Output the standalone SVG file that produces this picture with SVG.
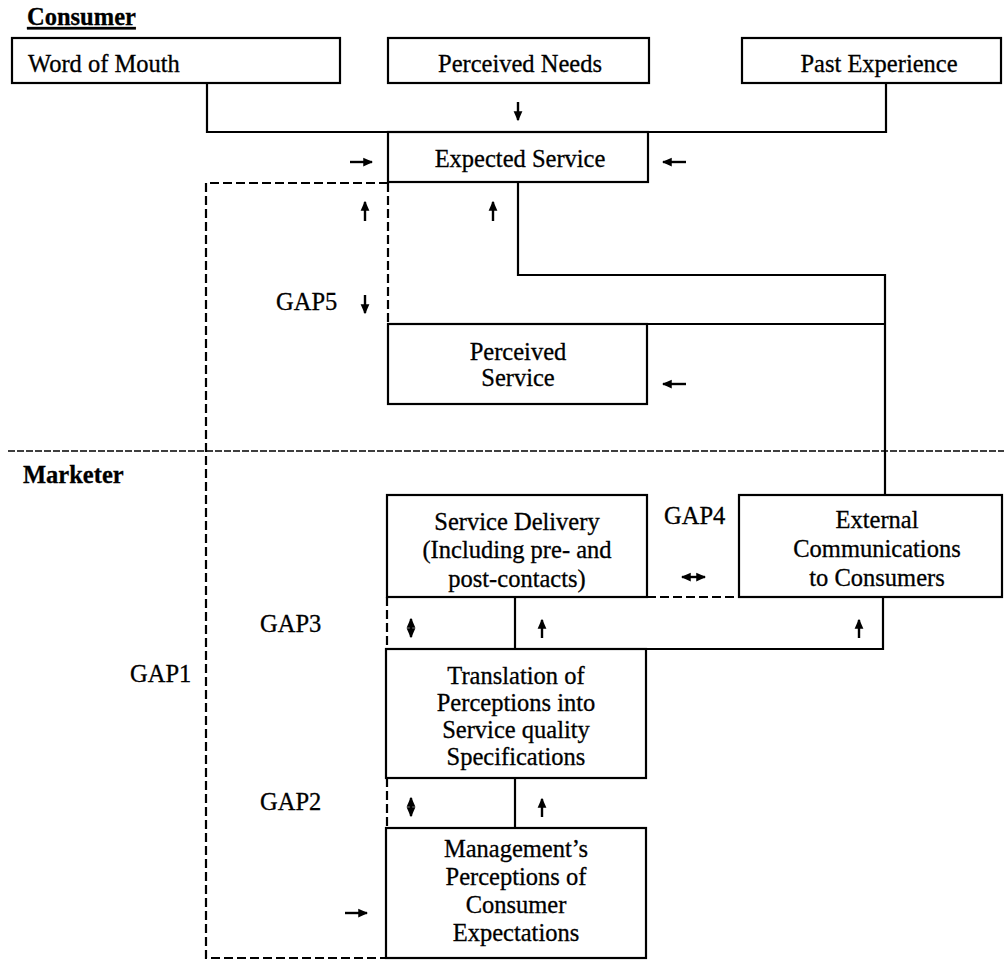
<svg xmlns="http://www.w3.org/2000/svg" width="1004" height="960" viewBox="0 0 1004 960">
<style>
text{font-family:"Liberation Serif","Times New Roman",serif;font-size:24.5px;fill:#000;stroke:#000;stroke-width:0.3}
.c{text-anchor:middle}
.b{font-weight:bold}
.box{fill:#fff;stroke:#000;stroke-width:2.2}
.ln{fill:none;stroke:#000;stroke-width:2.2}
.dash{fill:none;stroke:#000;stroke-width:2.2;stroke-dasharray:9,4}
.sep{fill:none;stroke:#000;stroke-width:1.6;stroke-dasharray:7,2}
.ar{fill:none;stroke:#000;stroke-width:2.4}
</style>
<defs>
<marker id="ah" markerUnits="userSpaceOnUse" markerWidth="10" markerHeight="10" refX="7" refY="4" orient="auto-start-reverse" viewBox="0 0 8 8">
<path d="M0,0.5 L8,4 L0,7.5 Z" fill="#000"/>
</marker>
</defs>

<text x="27" y="25" class="b" text-decoration="underline">Consumer</text>
<text x="23" y="483" class="b">Marketer</text>

<g id="connectors">
<path class="ln" d="M207,83 V132 H886 V83"/>
<path class="ln" d="M518,182 V275 H885 V495"/>
<path class="ln" d="M647,324 H885"/>
<path class="dash" d="M388,183 H206 V958 H386"/>
<path class="dash" d="M388,183 V324"/>
<path class="dash" d="M387,597 V649"/>
<path class="ln" d="M515,597 V649"/>
<path class="ln" d="M646,649 H883 V597"/>
<path class="dash" d="M647,597 H739"/>
<path class="dash" d="M387,778 V828"/>
<path class="ln" d="M515,778 V828"/>
<path class="sep" d="M8,451 H1004"/>
<path class="ar" marker-end="url(#ah)" d="M518,102 V120"/>
<path class="ar" marker-end="url(#ah)" d="M350,162 H372"/>
<path class="ar" marker-end="url(#ah)" d="M686,162 H663"/>
<path class="ar" marker-end="url(#ah)" d="M365,221 V202"/>
<path class="ar" marker-end="url(#ah)" d="M493,221 V202"/>
<path class="ar" marker-end="url(#ah)" d="M365,295 V313"/>
<path class="ar" marker-end="url(#ah)" d="M686,384 H663"/>
<path class="ar" marker-start="url(#ah)" marker-end="url(#ah)" d="M682,577 H705"/>
<path class="ar" marker-start="url(#ah)" marker-end="url(#ah)" d="M411,619 V637"/>
<path class="ar" marker-end="url(#ah)" d="M542,638 V620"/>
<path class="ar" marker-end="url(#ah)" d="M859,638 V620"/>
<path class="ar" marker-start="url(#ah)" marker-end="url(#ah)" d="M411,798 V816"/>
<path class="ar" marker-end="url(#ah)" d="M542,817 V799"/>
<path class="ar" marker-end="url(#ah)" d="M345,913 H367"/>
</g>

<g id="word-of-mouth">
<rect class="box" x="12" y="38" width="328" height="45"/>
<text x="28" y="72">Word of Mouth</text>
</g>
<g id="perceived-needs">
<rect class="box" x="388" y="38" width="261" height="45"/>
<text x="520" y="72" class="c">Perceived Needs</text>
</g>
<g id="past-experience">
<rect class="box" x="742" y="38" width="259" height="45"/>
<text x="879" y="72" class="c">Past Experience</text>
</g>
<g id="expected-service">
<rect class="box" x="388" y="132" width="260" height="50"/>
<text x="520" y="167" class="c">Expected Service</text>
</g>
<g id="perceived-service">
<rect class="box" x="388" y="324" width="259" height="80"/>
<text x="518" y="360" class="c">Perceived</text>
<text x="518" y="386" class="c">Service</text>
</g>
<g id="service-delivery">
<rect class="box" x="387" y="495" width="260" height="102"/>
<text x="517" y="530" class="c">Service Delivery</text>
<text x="517" y="558" class="c">(Including pre- and</text>
<text x="517" y="587" class="c">post-contacts)</text>
</g>
<g id="external-communications">
<rect class="box" x="739" y="495" width="263" height="102"/>
<text x="877" y="528" class="c">External</text>
<text x="877" y="557" class="c">Communications</text>
<text x="877" y="586" class="c">to Consumers</text>
</g>
<g id="translation">
<rect class="box" x="386" y="649" width="260" height="129"/>
<text x="516" y="684" class="c">Translation of</text>
<text x="516" y="711" class="c">Perceptions into</text>
<text x="516" y="738" class="c">Service quality</text>
<text x="516" y="765" class="c">Specifications</text>
</g>
<g id="management-perceptions">
<rect class="box" x="386" y="828" width="260" height="130"/>
<text x="516" y="857" class="c">Management’s</text>
<text x="516" y="885" class="c">Perceptions of</text>
<text x="516" y="913" class="c">Consumer</text>
<text x="516" y="941" class="c">Expectations</text>
</g>

<g id="gap-labels">
<text x="276" y="310">GAP5</text>
<text x="664" y="524">GAP4</text>
<text x="260" y="632">GAP3</text>
<text x="130" y="682">GAP1</text>
<text x="260" y="810">GAP2</text>
</g>
</svg>
